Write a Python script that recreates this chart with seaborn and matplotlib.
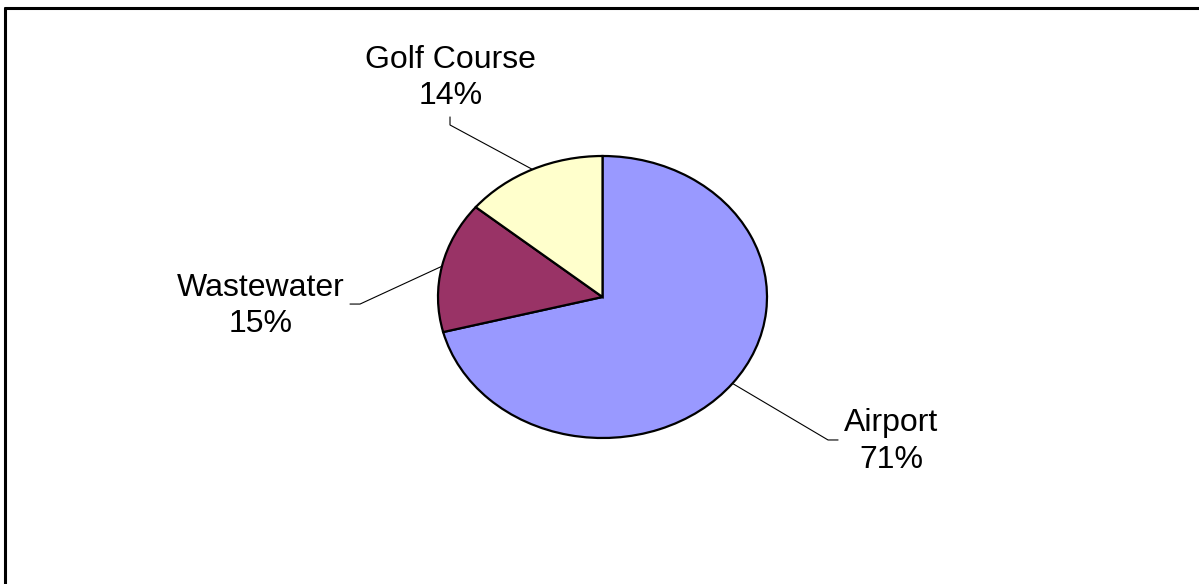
import matplotlib
matplotlib.use("Agg")
import matplotlib.pyplot as plt
from matplotlib.lines import Line2D
import numpy as np
import seaborn as sns

# Share of use by sector
categories = ["Airport", "Wastewater", "Golf Course"]
shares = [71, 15, 14]
slice_colors = ["#9999FF", "#993366", "#FFFFCC"]

sns.set_theme(style="white")
plt.rcParams["font.family"] = ["Liberation Sans", "DejaVu Sans"]

W, H = 1199, 584
fig = plt.figure(figsize=(W / 100, H / 100), dpi=100)
fig.patch.set_facecolor("white")

# pie box in pixels (left, top, right, bottom)
px_l, px_t, px_r, px_b = 438, 156, 767, 438
ax = fig.add_axes([px_l / W, 1 - px_b / H, (px_r - px_l) / W, (px_b - px_t) / H])

wedges, _ = ax.pie(
    shares,
    colors=slice_colors,
    startangle=90,
    counterclock=False,
    radius=1.0,
    wedgeprops=dict(edgecolor="black", linewidth=1.6),
)
ax.set_aspect("auto")
ax.set_xlim(-1, 1)
ax.set_ylim(-1, 1)
ax.axis("off")

# label placement: text centre, elbow point, elbow end
label_layout = {
    "Airport": dict(text=(1.754, -1.028), elbow=(1.371, -1.014), end=(1.432, -1.014)),
    "Wastewater": dict(text=(-2.076, -0.064), elbow=(-1.474, -0.050), end=(-1.535, -0.050)),
    "Golf Course": dict(text=(-0.924, 1.553), elbow=(-0.927, 1.220), end=(-0.927, 1.277)),
}

for wedge, name, val in zip(wedges, categories, shares):
    mid = np.deg2rad((wedge.theta1 + wedge.theta2) / 2)
    edge = (np.cos(mid), np.sin(mid))
    lay = label_layout[name]
    ax.plot([edge[0], lay["elbow"][0], lay["end"][0]],
             [edge[1], lay["elbow"][1], lay["end"][1]],
             color="black", linewidth=0.8, clip_on=False)
    ax.text(lay["text"][0], lay["text"][1], f"{name}\n{val}%",
            ha="center", va="center", fontsize=23, color="black",
            linespacing=1.3, clip_on=False)

# outer frame (top and left edges)
fig.add_artist(Line2D([5 / W, 1], [1 - 8 / H, 1 - 8 / H], transform=fig.transFigure,
                      color="black", linewidth=2.2))
fig.add_artist(Line2D([5 / W, 5 / W], [0, 1 - 8 / H], transform=fig.transFigure,
                      color="black", linewidth=2.2))

fig.savefig("out.png", dpi=100, facecolor="white")
